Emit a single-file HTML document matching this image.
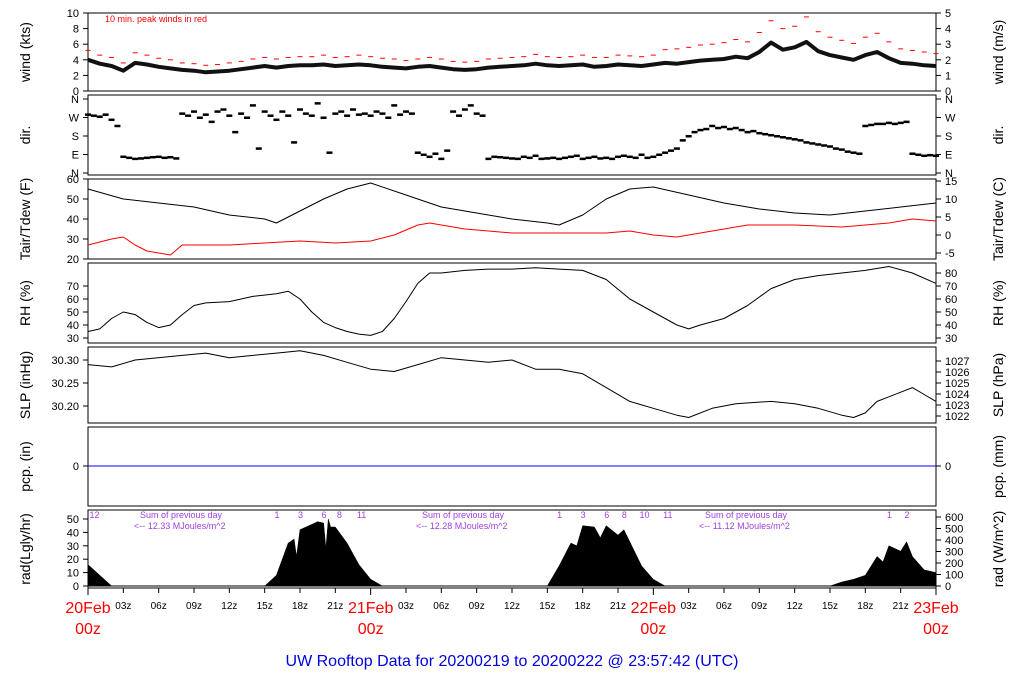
<!DOCTYPE html>
<html><head><meta charset="utf-8"><style>
body{margin:0;background:#fff}
svg{display:block;font-family:"Liberation Sans",sans-serif}
</style></head><body>
<svg id="c" width="1024" height="700" xmlns="http://www.w3.org/2000/svg"></svg>
<script>
// ---- data (hour offsets from 20Feb 00z) ----
const windHours=[0,1,2,3,4,5,6,7,8,9,10,11,12,13,14,15,16,17,18,19,20,21,22,23,24,25,26,27,28,29,30,31,32,33,34,35,36,37,38,39,40,41,42,43,44,45,46,47,48,49,50,51,52,53,54,55,56,57,58,59,60,61,62,63,64,65,66,67,68,69,70,71,72];
const windKts=[4,3.5,3.2,2.6,3.6,3.4,3.1,2.9,2.7,2.6,2.4,2.5,2.6,2.8,3,3.2,3,3.2,3.3,3.3,3.4,3.2,3.3,3.4,3.3,3.1,3,2.9,3.1,3.2,3,2.8,2.7,2.8,3,3.1,3.2,3.3,3.5,3.3,3.2,3.3,3.4,3.1,3.2,3.4,3.3,3.2,3.4,3.6,3.5,3.7,3.9,4,4.1,4.4,4.2,5,6.2,5.3,5.6,6.3,5.1,4.6,4.3,4,4.6,5,4.2,3.6,3.5,3.3,3.2];
const peakKts=[5.2,4.6,4.3,3.6,4.9,4.6,4.2,4,3.6,3.5,3.3,3.4,3.6,3.8,4.1,4.3,4.1,4.3,4.4,4.4,4.6,4.3,4.4,4.6,4.4,4.2,4.1,3.9,4.1,4.3,4.1,3.8,3.7,3.8,4.1,4.2,4.3,4.4,4.7,4.4,4.3,4.4,4.6,4.3,4.3,4.6,4.5,4.4,4.6,5.3,5.4,5.6,5.9,6,6.2,6.6,6.3,7.5,9,8,8.3,9.5,7.6,6.9,6.5,6.1,6.9,7.4,6.3,5.4,5.2,5,4.8];
// half-hourly directions (deg)
const dirDeg=[285,280,275,285,260,230,
80,75,70,72,75,78,80,75,78,72,
290,280,300,270,285,250,300,310,280,200,290,270,330,120,300,280,
260,300,280,150,310,290,280,340,270,100,290,300,280,310,285,290,
280,300,290,270,330,285,300,290,
100,90,80,95,70,110,300,280,310,330,290,280,
70,80,78,75,72,70,80,75,85,70,72,75,
70,75,80,85,70,75,80,72,75,70,80,85,80,75,90,75,
80,90,100,110,120,160,180,200,
210,215,230,220,225,215,220,210,200,205,195,190,185,180,175,170,
165,160,150,145,140,135,130,120,115,105,100,95,
230,235,240,240,245,240,245,250,
95,90,85,88,85];
const tHours=[0,3,6,9,12,15,16,18,20,22,24,27,30,33,36,39,40,42,44,46,48,51,54,57,60,63,66,69,72];
const tairF=[55,50,48,46,42,40,38,44,50,55,58,52,46,43,40,38,37,42,50,55,56,52,48,45,43,42,44,46,48];
const dewHours=[0,2,3,4,5,7,8,12,15,18,21,24,26,28,29,32,36,40,44,46,48,50,52,54,56,60,64,68,70,72];
const dewF=[27,30,31,27,24,22,27,27,28,29,28,29,32,37,38,35,33,33,33,34,32,31,33,35,37,37,36,38,40,39];
const rhHours=[0,1,2,3,4,5,6,7,8,9,10,12,14,16,17,18,19,20,21,22,23,24,25,26,27,28,29,30,32,34,36,38,40,42,44,46,48,50,51,52,54,56,58,60,62,64,66,68,70,72];
const rhPct=[35,37,45,50,48,42,38,40,48,55,57,58,62,64,66,60,50,42,38,35,33,32,35,45,58,72,80,80,82,83,83,84,83,82,75,60,50,40,37,40,45,55,68,75,78,80,82,85,80,72];
const slpHours=[0,2,4,8,10,12,14,16,18,20,22,24,26,28,30,32,34,36,38,40,42,44,46,48,50,51,53,55,58,60,62,64,65,66,67,69,70,71,72];
const slpInHg=[30.29,30.285,30.3,30.31,30.315,30.305,30.31,30.315,30.32,30.31,30.295,30.28,30.275,30.29,30.305,30.3,30.295,30.3,30.28,30.28,30.27,30.24,30.21,30.195,30.18,30.175,30.195,30.205,30.21,30.205,30.195,30.18,30.175,30.185,30.21,30.23,30.24,30.225,30.21];
const radHours=[0,1,2,15,16,17,17.5,17.7,18,19,19.5,20,20.2,20.4,20.6,21,22,23,24,25,39,40,41,41.5,42,43,43.5,44,45,45.5,46,47,48,49,63,64,65,66,67,67.5,68,69,69.5,70,71,72];
const radLy=[16,8,0,0,8,32,35,22,42,46,48,47,28,50,44,44,32,16,5,0,0,15,32,30,45,44,36,45,38,42,33,15,5,0,0,3,5,8,22,18,30,26,33,22,12,10];
const xTicks=['03z','06z','09z','12z','15z','18z','21z'];
const dayLabels=['20Feb','21Feb','22Feb','23Feb'];

const S=document.getElementById('c');const NS='http://www.w3.org/2000/svg';
const X0=88,X1=936;const x=h=>X0+h*(X1-X0)/72;
function el(t,a,p){const e=document.createElementNS(NS,t);for(const k in a)e.setAttribute(k,a[k]);(p||S).appendChild(e);return e;}
function txt(s,a){const e=el('text',a);e.textContent=s;return e;}
function line(hs,vs,fy,col,w,name){let d='';hs.forEach((h,i)=>{d+=(i?'L':'M')+x(h).toFixed(1)+' '+fy(vs[i]).toFixed(1)});const p=el('path',{d:d,fill:'none',stroke:col,'stroke-width':w,'stroke-linejoin':'round'});

return p;}
function panel(y0,y1,name,left,right){const r=el('rect',{x:X0,y:y0,width:X1-X0,height:y1-y0,fill:'none',stroke:'#000','stroke-width':1});


const lt=txt(left,{x:0,y:0,'font-size':14,'text-anchor':'middle',transform:`translate(30,${(y0+y1)/2}) rotate(-90)`});


const rt=txt(right,{x:0,y:0,'font-size':14,'text-anchor':'middle',transform:`translate(1003,${(y0+y1)/2}) rotate(-90)`});

}
function lt(y,s){el('line',{x1:X0-5,x2:X0,y1:y,y2:y,stroke:'#000'});const t=txt(s,{x:X0-9,y:y+4,'font-size':11,'text-anchor':'end'});}
function rtk(y,s){el('line',{x1:X1,x2:X1+5,y1:y,y2:y,stroke:'#000'});const t=txt(s,{x:X1+9,y:y+4,'font-size':11});}

// wind
panel(13,91,'wind','wind (kts)','wind (m/s)');
const wy=v=>91-v*7.8;
[0,2,4,6,8,10].forEach(v=>lt(wy(v),v));[0,1,2,3,4,5].forEach(v=>rtk(91-v*15.6,v));
line(windHours,windKts,wy,'#111',4,'wind-speed-line');
windHours.forEach((h,i)=>{const m=el('line',{x1:x(h)-2.5,x2:x(h)+2.5,y1:wy(peakKts[i]),y2:wy(peakKts[i]),stroke:'red','stroke-width':1});

});
const pk=txt('10 min. peak winds in red',{x:105,y:22,'font-size':9,fill:'red'});

// dir
panel(95,175,'direction','dir.','dir.');
const dy=v=>173-v*(74/360);
[['N',0],['E',90],['S',180],['W',270],['N',360]].forEach(([s,v])=>{lt(dy(v),s);rtk(dy(v),s);});
dirDeg.forEach((v,i)=>{const h=i/2;const m=el('rect',{x:x(h)-3,y:dy(v)-1,width:6,height:2.5,fill:'#000'});

});

// temperature
panel(179,259,'temperature','Tair/Tdew (F)','Tair/Tdew (C)');
const ty=v=>259-(v-20)*2;
[20,30,40,50,60].forEach(v=>lt(ty(v),v));[-5,0,5,10,15].forEach(c=>rtk(ty(c*1.8+32),c));
line(tHours,tairF,ty,'#000',1,'air-temperature-line');
line(dewHours,dewF,ty,'red',1,'dewpoint-line');

// RH
panel(263,343,'humidity','RH (%)','RH (%)');
const ry=v=>338-(v-30)*1.3;
[30,40,50,60,70].forEach(v=>lt(ry(v),v));[30,40,50,60,70,80].forEach(v=>rtk(ry(v),v));
line(rhHours,rhPct,ry,'#000',1,'relative-humidity-line');

// SLP
panel(347,423,'pressure','SLP (inHg)','SLP (hPa)');
const sy=v=>360+(30.30-v)*460;
[30.20,30.25,30.30].forEach(v=>lt(sy(v),v.toFixed(2)));[1027,1026,1025,1024,1023,1022].forEach((v,i)=>rtk(361+i*11,v));
line(slpHours,slpInHg,sy,'#000',1,'pressure-line');

// pcp
panel(427,506,'precipitation','pcp. (in)','pcp. (mm)');
lt(466,0);rtk(466,0);
const pl=el('line',{x1:X0,x2:X1,y1:466,y2:466,stroke:'blue'});

// rad
panel(510,588,'radiation','rad(Lgly/hr)','rad (W/m^2)');
const ay=v=>586-v*1.34;
[0,10,20,30,40,50].forEach(v=>lt(ay(v),v));[0,100,200,300,400,500,600].forEach(v=>rtk(586-v*0.115,v));
let d='M'+x(radHours[0])+' '+ay(0);radHours.forEach((h,i)=>{d+='L'+x(h).toFixed(1)+' '+ay(radLy[i]).toFixed(1)});d+='L'+x(72)+' '+ay(0)+'Z';
const ra=el('path',{d:d,fill:'#000',stroke:'#000','stroke-width':0.5});
el('line',{x1:X0,x2:X1,y1:ay(0),y2:ay(0),stroke:'#000','stroke-width':1});
[['12.33',140],['12.28',422],['11.12',705]].forEach(([v,xx])=>{
const a=txt('Sum of previous day',{x:xx,y:518,'font-size':9,fill:'#a040e0'});
const b=txt('<-- '+v+' MJoules/m^2',{x:xx-6,y:529,'font-size':9,fill:'#a040e0'});});
[[0.3,'12'],[16,'1'],[18,'3'],[20,'6'],[21.3,'8'],[23,'11'],[40,'1'],[42,'3'],[44,'6'],[45.5,'8'],[47,'10'],[49,'11'],[68,'1'],[69.5,'2']].forEach(([h,s])=>{
const t=txt(s,{x:x(h)-2,y:518,'font-size':9,fill:'#a040e0'});});

// x axis
for(let dd=0;dd<3;dd++){xTicks.forEach((s,i)=>{const h=dd*24+(i+1)*3;el('line',{x1:x(h),x2:x(h),y1:588,y2:593,stroke:'#000'});
const t=txt(s,{x:x(h),y:609,'font-size':10,'text-anchor':'middle'});});}
dayLabels.forEach((s,i)=>{const h=i*24;el('line',{x1:x(h),x2:x(h),y1:588,y2:595,stroke:'#000'});
const a=txt(s,{x:x(h),y:613,'font-size':16,'text-anchor':'middle',fill:'red'});
const b=txt('00z',{x:x(h),y:634,'font-size':16,'text-anchor':'middle',fill:'red'});});
const ti=txt('UW Rooftop Data for 20200219  to  20200222 @ 23:57:42  (UTC)',{x:512,y:666,'font-size':16,'text-anchor':'middle',fill:'#0000dd','xml:space':'preserve'});

</script>
</body></html>
